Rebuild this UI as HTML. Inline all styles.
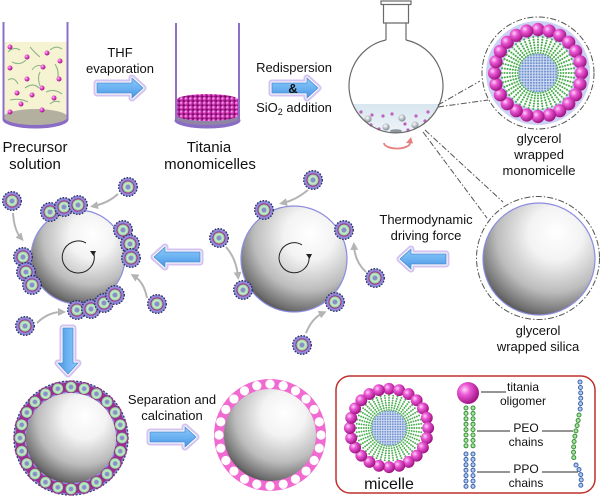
<!DOCTYPE html>
<html><head><meta charset="utf-8"><style>
html,body{margin:0;padding:0;background:#fff;}
svg{display:block;}
text{font-family:"Liberation Sans",Arial,sans-serif;fill:#111;}
</style></head><body>
<svg width="600" height="496" viewBox="0 0 600 496" xmlns="http://www.w3.org/2000/svg">
<defs>
<radialGradient id="pk" cx="0.35" cy="0.35" r="0.7"><stop offset="0" stop-color="#fcd6f6"/><stop offset="0.35" stop-color="#ec58d6"/><stop offset="1" stop-color="#9a0e7c"/></radialGradient>
<radialGradient id="sph" cx="0.62" cy="0.3" r="0.8" fx="0.66" fy="0.26"><stop offset="0" stop-color="#ffffff"/><stop offset="0.3" stop-color="#f3f3f3"/><stop offset="0.64" stop-color="#bcbcbc"/><stop offset="0.87" stop-color="#6e6e6e"/><stop offset="1" stop-color="#2e2e2e"/></radialGradient>
<radialGradient id="grn" cx="0.5" cy="0.5" r="0.5"><stop offset="0" stop-color="#8a8ec8"/><stop offset="0.4" stop-color="#9cc4c4"/><stop offset="0.65" stop-color="#c8f0c8"/><stop offset="1" stop-color="#86c694"/></radialGradient>
<radialGradient id="bub" cx="0.4" cy="0.35" r="0.65"><stop offset="0" stop-color="#ffffff"/><stop offset="1" stop-color="#7e8a94"/></radialGradient>
<linearGradient id="blu" x1="0" y1="0" x2="0" y2="1"><stop offset="0" stop-color="#8cc8f8"/><stop offset="0.5" stop-color="#6cb2f2"/><stop offset="1" stop-color="#4a96e2"/></linearGradient>
<linearGradient id="liq" x1="0" y1="0" x2="0" y2="1"><stop offset="0" stop-color="#d8e6ef"/><stop offset="1" stop-color="#eef4f8"/></linearGradient>
<pattern id="pdots" width="4.6" height="4.4" patternUnits="userSpaceOnUse"><rect width="4.6" height="4.4" fill="#7a0a66"/><circle cx="2.3" cy="2.2" r="2.2" fill="url(#pk)"/></pattern>
<pattern id="bdots" width="2.8" height="2.8" patternUnits="userSpaceOnUse"><rect width="2.8" height="2.8" fill="#d2def2"/><circle cx="1.4" cy="1.4" r="1.05" fill="#6f90d0"/></pattern>
<marker id="ga" markerWidth="8" markerHeight="8" refX="4" refY="4" orient="auto" markerUnits="userSpaceOnUse"><path d="M0,0 L8,4 L0,8 Z" fill="#b4b4b4"/></marker>

<g id="sm">
 <circle r="9.3" fill="#8e8cda" stroke="#2c2c60" stroke-width="1.3" stroke-dasharray="1.6 1.4"/>
 <circle r="6.6" fill="#a82a88"/>
 <circle r="5.6" fill="url(#grn)"/>
 <circle r="2.3" fill="#8a8fc8"/>
</g>
<g id="cm"><circle cx="0" cy="-51" r="6.6" fill="#9a2c90"/><circle cx="0" cy="-51" r="5.4" fill="url(#grn)"/><circle cx="0" cy="-51" r="2.1" fill="#8a8fc8"/></g>
<circle id="hole" cx="0" cy="-51" r="4.6" fill="#fff"/>
<circle id="b" r="6.6" fill="url(#pk)"/>

<g id="sp" stroke="#4cae50" stroke-width="2.1" stroke-linecap="round" stroke-dasharray="0 2.7" fill="none">
 <line x1="0" y1="-20" x2="0" y2="-37"/>
 <line x1="0" y1="-20" x2="0" y2="-37" transform="rotate(15)"/>
 <line x1="0" y1="-20" x2="0" y2="-37" transform="rotate(30)"/>
 <line x1="0" y1="-20" x2="0" y2="-37" transform="rotate(45)"/>
 <line x1="0" y1="-20" x2="0" y2="-37" transform="rotate(60)"/>
 <line x1="0" y1="-20" x2="0" y2="-37" transform="rotate(75)"/>
 <line x1="0" y1="-20" x2="0" y2="-37" transform="rotate(90)"/>
 <line x1="0" y1="-20" x2="0" y2="-37" transform="rotate(105)"/>
 <line x1="0" y1="-20" x2="0" y2="-37" transform="rotate(120)"/>
 <line x1="0" y1="-20" x2="0" y2="-37" transform="rotate(135)"/>
 <line x1="0" y1="-20" x2="0" y2="-37" transform="rotate(150)"/>
 <line x1="0" y1="-20" x2="0" y2="-37" transform="rotate(165)"/>
 <line x1="0" y1="-20" x2="0" y2="-37" transform="rotate(180)"/>
 <line x1="0" y1="-20" x2="0" y2="-37" transform="rotate(195)"/>
 <line x1="0" y1="-20" x2="0" y2="-37" transform="rotate(210)"/>
 <line x1="0" y1="-20" x2="0" y2="-37" transform="rotate(225)"/>
 <line x1="0" y1="-20" x2="0" y2="-37" transform="rotate(240)"/>
 <line x1="0" y1="-20" x2="0" y2="-37" transform="rotate(255)"/>
 <line x1="0" y1="-20" x2="0" y2="-37" transform="rotate(270)"/>
 <line x1="0" y1="-20" x2="0" y2="-37" transform="rotate(285)"/>
 <line x1="0" y1="-20" x2="0" y2="-37" transform="rotate(300)"/>
 <line x1="0" y1="-20" x2="0" y2="-37" transform="rotate(315)"/>
 <line x1="0" y1="-20" x2="0" y2="-37" transform="rotate(330)"/>
 <line x1="0" y1="-20" x2="0" y2="-37" transform="rotate(345)"/>
</g>

<g id="mono">
 <use href="#sp"/>
 <use href="#sp" transform="rotate(7.5)"/>
 <circle r="19.5" fill="url(#bdots)"/>
 <use href="#b" x="0" y="-43.5"/><use href="#b" x="11.26" y="-42.02"/><use href="#b" x="21.75" y="-37.67"/><use href="#b" x="30.76" y="-30.76"/>
 <use href="#b" x="37.67" y="-21.75"/><use href="#b" x="42.02" y="-11.26"/><use href="#b" x="43.5" y="0"/><use href="#b" x="42.02" y="11.26"/>
 <use href="#b" x="37.67" y="21.75"/><use href="#b" x="30.76" y="30.76"/><use href="#b" x="21.75" y="37.67"/><use href="#b" x="11.26" y="42.02"/>
 <use href="#b" x="0" y="43.5"/><use href="#b" x="-11.26" y="42.02"/><use href="#b" x="-21.75" y="37.67"/><use href="#b" x="-30.76" y="30.76"/>
 <use href="#b" x="-37.67" y="21.75"/><use href="#b" x="-42.02" y="11.26"/><use href="#b" x="-43.5" y="0"/><use href="#b" x="-42.02" y="-11.26"/>
 <use href="#b" x="-37.67" y="-21.75"/><use href="#b" x="-30.76" y="-30.76"/><use href="#b" x="-21.75" y="-37.67"/><use href="#b" x="-11.26" y="-42.02"/>
</g>

<path id="arR" d="M0,-5 L35,-5 L35,-10 L46,0 L35,10 L35,5 L0,5 Z"/>
<g id="garR">
 <use href="#arR" fill="none" stroke="#d4c2f0" stroke-width="7" stroke-linejoin="round"/>
 <use href="#arR" fill="none" stroke="#ffffff" stroke-width="3" stroke-linejoin="round"/>
 <use href="#arR" fill="url(#blu)" stroke="#4a8cd6" stroke-width="0.8"/>
</g>
</defs>

<rect width="600" height="496" fill="#fff"/>

<!-- Beaker 1 -->
<rect x="4" y="42" width="63" height="76" fill="#f5f3d2"/>
<ellipse cx="35.5" cy="119.5" rx="33" ry="9" fill="#8a6cc4"/>
<ellipse cx="35.5" cy="117" rx="32" ry="8" fill="#b4b0a0"/>
<line x1="3.5" y1="22" x2="3.5" y2="119" stroke="#8c70c8" stroke-width="2"/>
<line x1="67.5" y1="22" x2="67.5" y2="119" stroke="#8c70c8" stroke-width="2"/>
<g fill="none" stroke="#8fb58a" stroke-width="1.1">
<path d="M8,52 q6,-6 12,-2"/><path d="M30,47 q5,6 10,10"/><path d="M50,50 q6,-5 12,-1"/><path d="M12,62 q8,4 14,-2"/>
<path d="M40,72 q-3,6 0,14"/><path d="M55,64 q5,8 2,16"/><path d="M8,80 q6,-4 10,4"/><path d="M25,88 q8,-6 14,0"/>
<path d="M46,92 q8,-4 16,2"/><path d="M10,100 q10,-2 18,2"/><path d="M50,104 q4,-4 10,-2"/><path d="M32,70 q4,-6 10,-4"/>
</g>
<g fill="url(#pk)">
<circle cx="10" cy="47" r="2.5"/><circle cx="27" cy="57" r="2.5"/><circle cx="47" cy="53" r="2.5"/><circle cx="60" cy="61" r="2.5"/>
<circle cx="10" cy="68" r="2.5"/><circle cx="43" cy="67" r="2.5"/><circle cx="27" cy="79" r="2.5"/><circle cx="59" cy="79" r="2.5"/>
<circle cx="42" cy="88" r="2.5"/><circle cx="17" cy="93" r="2.5"/><circle cx="32" cy="95" r="2.5"/><circle cx="54" cy="98" r="2.5"/>
<circle cx="21" cy="104" r="2.5"/><circle cx="42" cy="110" r="2.5"/><circle cx="10" cy="112" r="2.5"/>
</g>
<text x="35" y="152" font-size="15" text-anchor="middle">Precursor</text>
<text x="35" y="169" font-size="15" text-anchor="middle">solution</text>

<!-- Arrow 1 -->
<text x="120" y="57" font-size="13" text-anchor="middle">THF</text>
<text x="120" y="73" font-size="13" text-anchor="middle">evaporation</text>
<use href="#garR" transform="translate(97,88)"/>

<!-- Beaker 2 -->
<ellipse cx="207.5" cy="120.5" rx="33" ry="8" fill="#8a6cc4"/>
<ellipse cx="207.5" cy="118" rx="32" ry="7" fill="#8f86a6"/>
<path d="M176.5,100 A31,6 0 0 1 238.5,100 L238.5,115 A31,6 0 0 1 176.5,115 Z" fill="url(#pdots)"/>
<line x1="176" y1="23" x2="176" y2="119" stroke="#8c70c8" stroke-width="2"/>
<line x1="239" y1="23" x2="239" y2="119" stroke="#8c70c8" stroke-width="2"/>
<text x="209" y="152" font-size="15" text-anchor="middle">Titania</text>
<text x="210" y="169" font-size="15" text-anchor="middle">monomicelles</text>

<!-- Arrow 2 -->
<text x="294" y="72" font-size="13" text-anchor="middle">Redispersion</text>
<use href="#garR" transform="translate(272,88)"/>
<text x="293" y="93" font-size="13" text-anchor="middle" font-weight="bold">&amp;</text>
<text x="294" y="112" font-size="13" text-anchor="middle">SiO<tspan font-size="9" dy="3">2</tspan><tspan dy="-3"> addition</tspan></text>

<!-- Flask -->
<path d="M352.6,104 A47,47 0 0 0 439.4,104 Z" fill="url(#liq)"/>
<g fill="url(#bub)">
<circle cx="368" cy="119" r="3.6"/><circle cx="386" cy="127" r="3.6"/><circle cx="402" cy="118" r="3.6"/><circle cx="415" cy="125" r="3.6"/>
</g>
<ellipse cx="396" cy="131" rx="6" ry="1.8" fill="#8c969e"/>
<g fill="#c060c0">
<circle cx="361" cy="112" r="1.6"/><circle cx="372" cy="115" r="1.6"/><circle cx="383" cy="116" r="1.6"/><circle cx="392" cy="114" r="1.6"/>
<circle cx="405" cy="124" r="1.6"/><circle cx="416" cy="116" r="1.6"/><circle cx="428" cy="112" r="1.6"/><circle cx="371" cy="125" r="1.6"/>
<circle cx="379" cy="129" r="1.6"/><circle cx="425" cy="121" r="1.6"/><circle cx="408" cy="130" r="1.6"/>
</g>
<g fill="none" stroke="#6a6a6a" stroke-width="1.2">
<path d="M386,40 A47,47 0 1 0 406,40"/>
<line x1="386" y1="40" x2="386" y2="23"/><line x1="406" y1="40" x2="406" y2="23"/>
<line x1="383" y1="23" x2="409" y2="23"/>
<line x1="383.5" y1="23" x2="383.5" y2="4"/><line x1="408.5" y1="23" x2="408.5" y2="4"/>
<rect x="381" y="1" width="30" height="3.5"/>
</g>
<path d="M384,143 A13,5.5 0 0 0 410,143" fill="none" stroke="#e88080" stroke-width="1.8"/>
<path d="M406,143 L413,143.5 L411,137 Z" fill="#e88080"/>

<!-- dash-dot connectors -->
<g fill="none" stroke="#555" stroke-width="1" stroke-dasharray="6 2 1.5 2">
<line x1="438" y1="105" x2="480" y2="81"/>
<line x1="438" y1="107" x2="488" y2="100"/>
<line x1="423" y1="132" x2="487" y2="218"/>
<line x1="425" y1="130" x2="503" y2="202"/>
<circle cx="538" cy="73" r="56"/>
<circle cx="538" cy="258" r="61.5"/>
</g>

<!-- glycerol wrapped monomicelle -->
<circle cx="538" cy="73" r="44" fill="none" stroke="#aab2ec" stroke-width="16" opacity="0.6"/>
<use href="#mono" transform="translate(538,73)"/>
<text x="539" y="143" font-size="13" text-anchor="middle">glycerol</text>
<text x="539" y="159" font-size="13" text-anchor="middle">wrapped</text>
<text x="539" y="175" font-size="13" text-anchor="middle">monomicelle</text>

<!-- glycerol wrapped silica -->
<circle cx="539" cy="259" r="56" fill="url(#sph)" stroke="#8c8ce0" stroke-width="1.2"/>
<text x="538" y="335" font-size="13" text-anchor="middle">glycerol</text>
<text x="538" y="351" font-size="13" text-anchor="middle">wrapped silica</text>

<!-- Thermodynamic arrow -->
<text x="426" y="224" font-size="13" text-anchor="middle">Thermodynamic</text>
<text x="426" y="240" font-size="13" text-anchor="middle">driving force</text>
<use href="#garR" transform="translate(446,259) scale(-1,1)"/>

<!-- Middle sphere -->
<circle cx="294" cy="259" r="53" fill="url(#sph)" stroke="#8c8ce0" stroke-width="1.2"/>
<path d="M302,245 A15,15 0 1 0 309,256" fill="none" stroke="#222" stroke-width="1"/>
<path d="M306,254 L312,254 L309.5,259 Z" fill="#222"/>
<g fill="none" stroke="#b4b4b4" stroke-width="2" marker-end="url(#ga)">
<path d="M308,190 Q296,200 283,203"/>
<path d="M226,247 Q236,258 238,276"/>
<path d="M366,272 Q355,262 354,246"/>
<path d="M306,333 Q312,318 323,313"/>
</g>
<use href="#sm" x="264" y="210"/><use href="#sm" x="344" y="230"/><use href="#sm" x="335" y="302"/><use href="#sm" x="243" y="290"/>
<use href="#sm" x="313" y="180"/><use href="#sm" x="219" y="238"/><use href="#sm" x="375" y="278"/><use href="#sm" x="302" y="345"/>

<!-- arrow between spheres -->
<use href="#garR" transform="translate(200,257) scale(-1,1)"/>

<!-- Left sphere -->
<circle cx="78" cy="257" r="47" fill="url(#sph)" stroke="#8c8ce0" stroke-width="1.2"/>
<path d="M86,243 A16,16 0 1 0 94,254" fill="none" stroke="#222" stroke-width="1"/>
<path d="M90,251 L96,251 L93.5,256 Z" fill="#222"/>
<g fill="none" stroke="#b4b4b4" stroke-width="2" marker-end="url(#ga)">
<path d="M13,213 Q14,230 21,238"/>
<path d="M118,194 Q108,203 94,206"/>
<path d="M147,298 Q144,282 134,276"/>
<path d="M37,323 Q48,312 62,312"/>
</g>
<use href="#sm" x="50" y="212"/><use href="#sm" x="64" y="207"/><use href="#sm" x="78" y="205"/>
<use href="#sm" x="123" y="230"/><use href="#sm" x="130" y="244"/><use href="#sm" x="131" y="258"/>
<use href="#sm" x="23" y="257"/><use href="#sm" x="26" y="272"/><use href="#sm" x="32" y="285"/>
<use href="#sm" x="77" y="310"/><use href="#sm" x="91" y="309"/><use href="#sm" x="104" y="303"/><use href="#sm" x="115" y="295"/>
<use href="#sm" x="12" y="201"/><use href="#sm" x="128" y="187"/><use href="#sm" x="157" y="304"/><use href="#sm" x="25" y="326"/>

<!-- Down arrow -->
<use href="#garR" transform="translate(68,328) rotate(90)"/>

<!-- Bottom-left coated sphere -->
<g transform="translate(71,438)">
 <circle r="57" fill="#8f8fdc" stroke="#3a3a70" stroke-width="1.3" stroke-dasharray="2 1.6"/>
 <circle r="51" fill="none" stroke="#a03090" stroke-width="9"/>
 <use href="#cm"/><use href="#cm" transform="rotate(15)"/><use href="#cm" transform="rotate(30)"/><use href="#cm" transform="rotate(45)"/>
 <use href="#cm" transform="rotate(60)"/><use href="#cm" transform="rotate(75)"/><use href="#cm" transform="rotate(90)"/><use href="#cm" transform="rotate(105)"/>
 <use href="#cm" transform="rotate(120)"/><use href="#cm" transform="rotate(135)"/><use href="#cm" transform="rotate(150)"/><use href="#cm" transform="rotate(165)"/>
 <use href="#cm" transform="rotate(180)"/><use href="#cm" transform="rotate(195)"/><use href="#cm" transform="rotate(210)"/><use href="#cm" transform="rotate(225)"/>
 <use href="#cm" transform="rotate(240)"/><use href="#cm" transform="rotate(255)"/><use href="#cm" transform="rotate(270)"/><use href="#cm" transform="rotate(285)"/>
 <use href="#cm" transform="rotate(300)"/><use href="#cm" transform="rotate(315)"/><use href="#cm" transform="rotate(330)"/><use href="#cm" transform="rotate(345)"/>
 <circle r="45" fill="url(#sph)"/>
</g>

<!-- Separation arrow -->
<text x="172" y="404" font-size="13" text-anchor="middle">Separation and</text>
<text x="172" y="420" font-size="13" text-anchor="middle">calcination</text>
<use href="#garR" transform="translate(150,437)"/>

<!-- Pink ring sphere -->
<g transform="translate(270,435)">
 <circle r="56" fill="#f06ad2"/>
 <use href="#hole"/><use href="#hole" transform="rotate(15)"/><use href="#hole" transform="rotate(30)"/><use href="#hole" transform="rotate(45)"/>
 <use href="#hole" transform="rotate(60)"/><use href="#hole" transform="rotate(75)"/><use href="#hole" transform="rotate(90)"/><use href="#hole" transform="rotate(105)"/>
 <use href="#hole" transform="rotate(120)"/><use href="#hole" transform="rotate(135)"/><use href="#hole" transform="rotate(150)"/><use href="#hole" transform="rotate(165)"/>
 <use href="#hole" transform="rotate(180)"/><use href="#hole" transform="rotate(195)"/><use href="#hole" transform="rotate(210)"/><use href="#hole" transform="rotate(225)"/>
 <use href="#hole" transform="rotate(240)"/><use href="#hole" transform="rotate(255)"/><use href="#hole" transform="rotate(270)"/><use href="#hole" transform="rotate(285)"/>
 <use href="#hole" transform="rotate(300)"/><use href="#hole" transform="rotate(315)"/><use href="#hole" transform="rotate(330)"/><use href="#hole" transform="rotate(345)"/>
 <circle r="46" fill="url(#sph)"/>
</g>

<!-- Legend box -->
<rect x="336" y="376" width="259" height="117" rx="14" fill="#fff" stroke="#c0302c" stroke-width="1.5"/>
<use href="#mono" transform="translate(389,428) scale(0.9)"/>
<text x="389" y="489" font-size="16" text-anchor="middle">micelle</text>

<g fill="none" stroke-linecap="round" stroke-dasharray="0 5.4">
 <line x1="466" y1="408" x2="466" y2="449" stroke="#3a8f3a" stroke-width="5"/>
 <line x1="473" y1="408" x2="473" y2="449" stroke="#3a8f3a" stroke-width="5"/>
 <line x1="466" y1="408" x2="466" y2="449" stroke="#a8e6a0" stroke-width="3"/>
 <line x1="473" y1="408" x2="473" y2="449" stroke="#a8e6a0" stroke-width="3"/>
 <line x1="466" y1="454" x2="466" y2="488" stroke="#3e62a8" stroke-width="5"/>
 <line x1="473" y1="454" x2="473" y2="488" stroke="#3e62a8" stroke-width="5"/>
 <line x1="466" y1="454" x2="466" y2="488" stroke="#b0ccf0" stroke-width="3"/>
 <line x1="473" y1="454" x2="473" y2="488" stroke="#b0ccf0" stroke-width="3"/>
 <path d="M580,382 C581,392 581,402 580,410" stroke="#3e62a8" stroke-width="5"/>
 <path d="M580,382 C581,392 581,402 580,410" stroke="#b0ccf0" stroke-width="3"/>
 <path d="M579,415 C577,430 572,440 574,460" stroke="#3a8f3a" stroke-width="5"/>
 <path d="M579,415 C577,430 572,440 574,460" stroke="#a8e6a0" stroke-width="3"/>
 <path d="M576,465 C582,472 582,480 580,490" stroke="#3e62a8" stroke-width="5"/>
 <path d="M576,465 C582,472 582,480 580,490" stroke="#b0ccf0" stroke-width="3"/>
</g>
<circle cx="468" cy="393" r="11" fill="url(#pk)"/>
<g stroke="#555" stroke-width="1.2">
<line x1="481" y1="392" x2="506" y2="392"/>
<line x1="477" y1="431" x2="510" y2="431"/><line x1="542" y1="431" x2="573" y2="431"/>
<line x1="477" y1="472" x2="510" y2="472"/><line x1="542" y1="472" x2="578" y2="472"/>
</g>
<text x="523" y="391" font-size="12" text-anchor="middle">titania</text>
<text x="523" y="405" font-size="12" text-anchor="middle">oligomer</text>
<text x="526" y="432" font-size="12" text-anchor="middle">PEO</text>
<text x="526" y="446" font-size="12" text-anchor="middle">chains</text>
<text x="526" y="473" font-size="12" text-anchor="middle">PPO</text>
<text x="526" y="487" font-size="12" text-anchor="middle">chains</text>
</svg>
</body></html>
